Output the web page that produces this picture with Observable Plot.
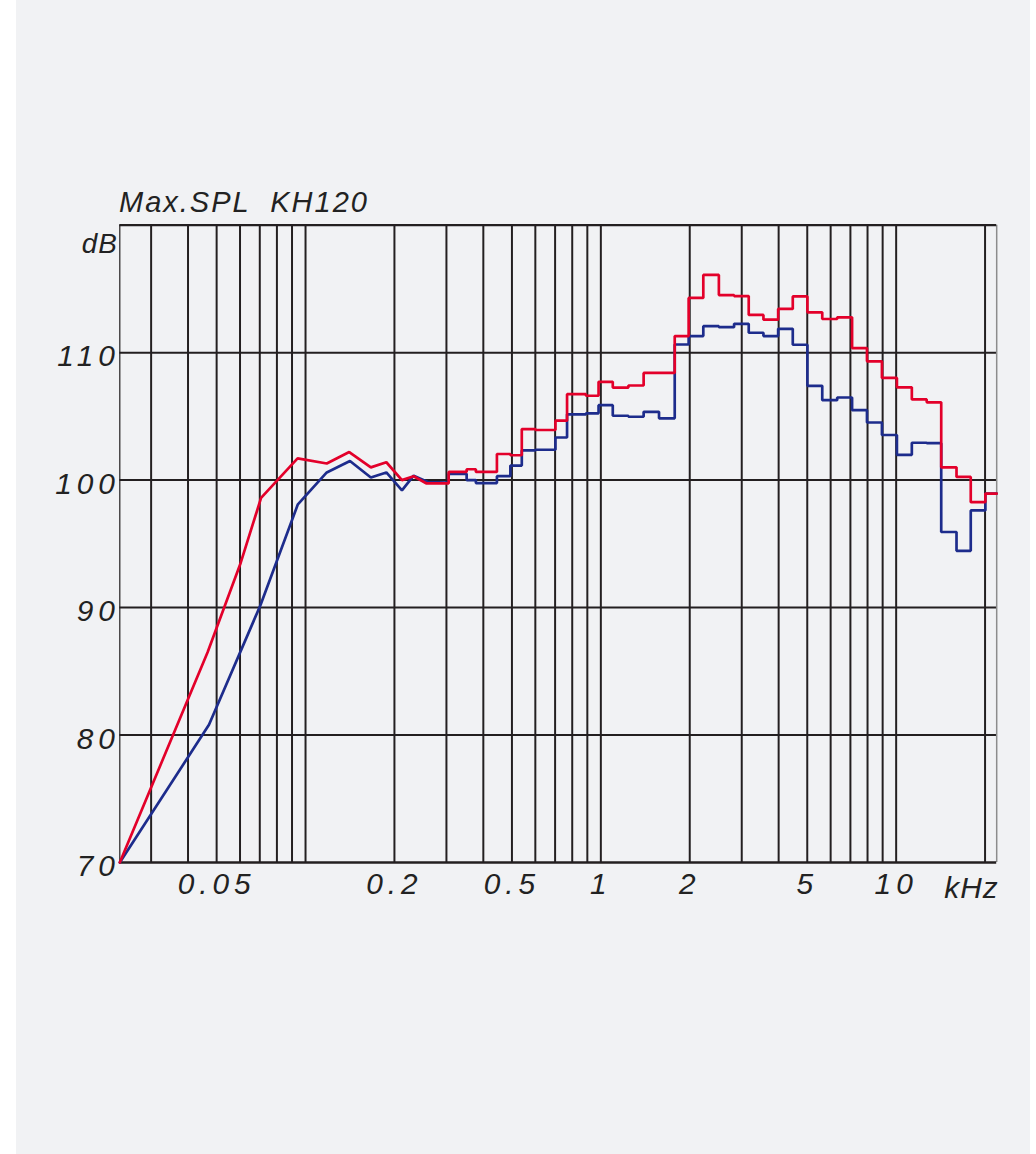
<!DOCTYPE html>
<html>
<head>
<meta charset="utf-8">
<script src="https://cdn.jsdelivr.net/npm/d3@7"></script>
<script src="https://cdn.jsdelivr.net/npm/@observablehq/plot@0.6"></script>
<style>
  html, body { margin: 0; padding: 0; background: #ffffff; }
  #page { position: relative; width: 1014px; height: 1154px; margin-left: 16px; background: #f1f2f4; overflow: hidden; }
  #title { position: absolute; left: 103px; top: 188px; font-family: "Liberation Sans", Arial, sans-serif; font-style: italic; font-size: 29px; letter-spacing: 2px; color: #222; white-space: pre; line-height: 29px; }
  #chart { position: absolute; left: -16px; top: 0; }
  #chart text { letter-spacing: 5px; }
</style>
</head>
<body>
<div id="page">
  <div id="title">Max.SPL  KH120</div>
  <div id="chart"></div>
</div>
<script>
// ---- data ----
const xDomain = [0.0235, 21.9];          // kHz
const yDomain = [70, 120];               // dB
const gridFreqs = [0.03, 0.04, 0.05, 0.06, 0.07, 0.08, 0.09, 0.1, 0.2, 0.3, 0.4, 0.5, 0.6, 0.7, 0.8, 0.9, 1, 2, 3, 4, 5, 6, 7, 8, 9, 10, 20];
const gridLevels = [80, 90, 100, 110];
const xTickLabels = [0.05, 0.2, 0.5, 1, 2, 5, 10];
const yTickLabels = [70, 80, 90, 100, 110];
const yUnit = "dB";
const xUnit = "kHz";

// low-frequency part (continuous curve)
const lowFreqRed  = [0.0235, 0.0466, 0.0603, 0.0707, 0.094, 0.118, 0.1406, 0.1664, 0.1878, 0.2121, 0.2323, 0.2561, 0.3053];
const lowRed      = [70, 86.5, 93.5, 98.6, 101.7, 101.3, 102.2, 101.0, 101.4, 100.0, 100.3, 99.75, 99.75];
const lowFreqBlue = [0.0235, 0.0471, 0.0704, 0.0942, 0.118, 0.1414, 0.1664, 0.1878, 0.2121, 0.2323, 0.2595, 0.3053];
const lowBlue     = [70, 80.8, 90.2, 98.1, 100.6, 101.5, 100.2, 100.6, 99.2, 100.35, 99.85, 99.8];

// band part (stepped): band edges in kHz, levels per band in dB
const bandEdges = [0.3053, 0.3512, 0.3774, 0.4447, 0.4939, 0.5399, 0.6009, 0.7019, 0.7684, 0.8903, 0.9824, 1.0975, 1.2398, 1.396, 1.574, 1.779, 1.983, 2.223, 2.51, 2.826, 3.168, 3.553, 3.985, 4.466, 5.006, 5.62, 6.315, 7.092, 7.965, 8.95, 10.06, 11.3, 12.69, 14.21, 16.01, 17.89, 20.05, 21.9];
const bandRed  = [100.64, 100.85, 100.64, 102.05, 101.95, 104.0, 103.93, 104.66, 106.74, 106.62, 107.71, 107.26, 107.42, 108.41, 108.41, 111.3, 114.29, 116.1, 114.52, 114.44, 112.96, 112.59, 113.43, 114.41, 113.16, 112.64, 112.77, 110.36, 109.32, 108.02, 107.28, 106.33, 106.1, 101.0, 100.25, 98.27, 98.94];
const bandBlue = [100.49, 100.0, 99.77, 100.31, 101.14, 102.33, 102.38, 103.34, 105.16, 105.24, 105.88, 105.05, 104.97, 105.36, 104.85, 110.64, 111.3, 112.08, 112.0, 112.26, 111.56, 111.3, 111.87, 110.62, 107.4, 106.27, 106.48, 105.49, 104.52, 103.54, 101.98, 102.93, 102.9, 95.93, 94.45, 97.62, 98.94];

const redColor = "#e3002a";
const blueColor = "#1d2c8c";
const gridColor = "#231f20";

// ---- build the vertex tables ----
function buildSeries(lowF, lowV, edges, levels) {
  const pts = lowF.map((f, i) => ({f, db: lowV[i]}));
  levels.forEach((v, i) => {
    pts.push({f: edges[i], db: v});
    pts.push({f: edges[i + 1], db: v});
  });
  return pts;
}
const redData = buildSeries(lowFreqRed, lowRed, bandEdges, bandRed);
const blueData = buildSeries(lowFreqBlue, lowBlue, bandEdges, bandBlue);

const chart = Plot.plot({
  width: 1036,
  height: 1154,
  marginLeft: 120,
  marginRight: 34,
  marginTop: 226,
  marginBottom: 287,
  style: {
    background: "transparent",
    fontFamily: "'Liberation Sans', Arial, sans-serif",
    fontSize: "30px",
    fontStyle: "italic",
    color: "#222",
    overflow: "visible"
  },
  x: {type: "log", domain: xDomain, axis: null},
  y: {domain: yDomain},
  marks: [
    Plot.ruleX(gridFreqs, {stroke: gridColor, strokeWidth: 2}),
    Plot.ruleY(gridLevels, {stroke: gridColor, strokeWidth: 2}),
    Plot.ruleX([xDomain[0]], {stroke: gridColor, strokeWidth: 1.2}),
    Plot.ruleX([xDomain[1]], {stroke: "#8c8c8c", strokeWidth: 1.5}),
    Plot.ruleY([yDomain[1]], {stroke: gridColor, strokeWidth: 2.2}),
    Plot.ruleY([yDomain[0]], {stroke: gridColor, strokeWidth: 2.4}),
    Plot.line(blueData, {x: "f", y: "db", stroke: blueColor, strokeWidth: 2.7, curve: "linear", strokeLinejoin: "miter"}),
    Plot.line(redData, {x: "f", y: "db", stroke: redColor, strokeWidth: 2.7, curve: "linear", strokeLinejoin: "miter"}),
    Plot.text(xTickLabels, {x: d => d, frameAnchor: "bottom", lineAnchor: "top", text: d => String(d), dx: 0, dy: 10, fill: "#222"}),
    Plot.axisY({ticks: yTickLabels, tickFormat: d => String(d), tickSize: 0, tickPadding: 0, label: null, dy: 4}),
    Plot.text([yUnit], {frameAnchor: "top-left", text: d => d, textAnchor: "end", dx: -2, dy: 8, fontSize: 28}),
    Plot.text([xUnit], {frameAnchor: "bottom-right", text: d => d, textAnchor: "end", dx: 2, dy: 36, fontSize: 30})
  ]
});
d3.select(chart).selectAll("text")
  .filter(function () { return this.textContent === xUnit || this.textContent === yUnit; })
  .style("letter-spacing", "1px");
document.getElementById("chart").appendChild(chart);
</script>
</body>
</html>
